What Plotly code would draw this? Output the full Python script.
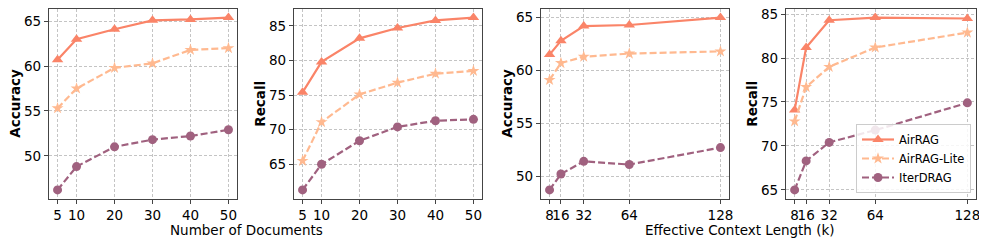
import plotly.graph_objects as go

# ---- data ----
docs = [5, 10, 20, 30, 40, 50]
docs_airrag_acc = [60.7, 63.0, 64.1, 65.1, 65.2, 65.4]
docs_lite_acc = [55.3, 57.5, 59.8, 60.3, 61.8, 62.0]
docs_iter_acc = [46.2, 48.8, 51.0, 51.8, 52.2, 52.9]

docs_airrag_rec = [75.4, 79.8, 83.2, 84.7, 85.8, 86.2]
docs_lite_rec = [65.5, 71.1, 75.1, 76.8, 78.1, 78.5]
docs_iter_rec = [61.3, 65.0, 68.4, 70.4, 71.3, 71.5]

ctx = [8, 16, 32, 64, 128]
ctx_labels = ["8", "16", "32", "64", "128"]
ctx_airrag_acc = [61.5, 62.8, 64.2, 64.3, 65.0]
ctx_lite_acc = [59.1, 60.7, 61.3, 61.6, 61.8]
ctx_iter_acc = [48.7, 50.2, 51.4, 51.1, 52.7]

ctx_airrag_rec = [74.1, 81.2, 84.3, 84.6, 84.5]
ctx_lite_rec = [72.8, 76.7, 79.0, 81.2, 82.9]
ctx_iter_rec = [65.0, 68.3, 70.4, 71.8, 74.9]

series_names = ["AirRAG", "AirRAG-Lite", "IterDRAG"]
colors = ["#FA8468", "#FFB990", "#A0617F"]
symbols = ["triangle-up", "star", "circle"]
sizes = [10, 9, 9]
dashes = ["solid", "7px,3px", "7px,3px"]

panels = [
    (docs, [docs_airrag_acc, docs_lite_acc, docs_iter_acc], "Accuracy"),
    (docs, [docs_airrag_rec, docs_lite_rec, docs_iter_rec], "Recall"),
    (ctx, [ctx_airrag_acc, ctx_lite_acc, ctx_iter_acc], "Accuracy"),
    (ctx, [ctx_airrag_rec, ctx_lite_rec, ctx_iter_rec], "Recall"),
]

# page body has an 8px margin, so the figure is offset by 8px in the window
OFF = 8
W, H = 987 - OFF, 246 - OFF


def px(x):
    return (x - OFF) / W


def py(y):
    return 1 - (y - OFF) / H


xdom_px = [(49, 237), (294, 482), (541, 729), (786, 976)]
ydom = [py(198.5), py(9)]

fig = go.Figure()
font = "DejaVu Sans"

for i, (xs, ys_list, ytitle) in enumerate(panels):
    ax = "" if i == 0 else str(i + 1)
    for j, ys in enumerate(ys_list):
        fig.add_trace(go.Scatter(
            x=xs, y=ys, mode="lines+markers", name=series_names[j],
            xaxis="x" + ax, yaxis="y" + ax,
            line=dict(color=colors[j], width=2.2, dash=dashes[j]),
            marker=dict(symbol=symbols[j], size=sizes[j], color=colors[j], line=dict(width=0)),
            showlegend=(i == 3),
        ))
    allv = [v for ys in ys_list for v in ys]
    lo, hi = min(allv), max(allv)
    pad = (hi - lo) * 0.05
    xlo, xhi = min(xs), max(xs)
    xpad = (xhi - xlo) * 0.05
    if xs is docs:
        tickvals, ticktext = docs, [str(d) for d in docs]
    else:
        tickvals, ticktext = ctx, ctx_labels
    x0, x1 = xdom_px[i]
    common = dict(
        showgrid=True, gridcolor="#C4C4C4", griddash="3px,2px", gridwidth=0.8,
        showline=True, mirror=True, linecolor="#444444", linewidth=1.3,
        ticks="outside", ticklen=4, tickcolor="#444444", zeroline=False,
        tickfont=dict(family=font, size=13.5, color="black"), automargin=False,
        ticklabeloverflow="allow",
    )
    fig.layout["xaxis" + ax] = dict(
        domain=[px(x0), px(x1)], anchor="y" + ax, range=[xlo - xpad, xhi + xpad],
        tickmode="array", tickvals=tickvals, ticktext=ticktext, tickangle=0, **common,
    )
    fig.layout["yaxis" + ax] = dict(
        domain=ydom, anchor="x" + ax, range=[lo - pad, hi + pad],
        tickmode="linear", dtick=5, tick0=0, **common,
    )
    fig.add_annotation(
        x=px(x0 - 34), y=(ydom[0] + ydom[1]) / 2, xref="paper", yref="paper",
        text="<b>" + ytitle + "</b>", textangle=-90, showarrow=False,
        font=dict(family=font, size=13.5, color="black"), xanchor="center", yanchor="middle",
    )

fig.add_annotation(x=px(246), y=py(230), xref="paper", yref="paper",
                   text="Number of Documents", showarrow=False,
                   font=dict(family=font, size=13.5, color="black"),
                   xanchor="center", yanchor="middle")
fig.add_annotation(x=px(740), y=py(230), xref="paper", yref="paper",
                   text="Effective Context Length (k)", showarrow=False,
                   font=dict(family=font, size=13.5, color="black"),
                   xanchor="center", yanchor="middle")

fig.update_layout(
    width=W, height=H, margin=dict(l=0, r=0, t=0, b=0),
    paper_bgcolor="white", plot_bgcolor="white", template="none",
    legend=dict(x=px(971), xanchor="right", y=py(193), yanchor="bottom",
                bgcolor="rgba(255,255,255,0.85)", bordercolor="#CCCCCC", borderwidth=1,
                font=dict(family=font, size=11.5, color="black"),
                itemwidth=32, tracegroupgap=0),
)

fig.write_html("out.html")
